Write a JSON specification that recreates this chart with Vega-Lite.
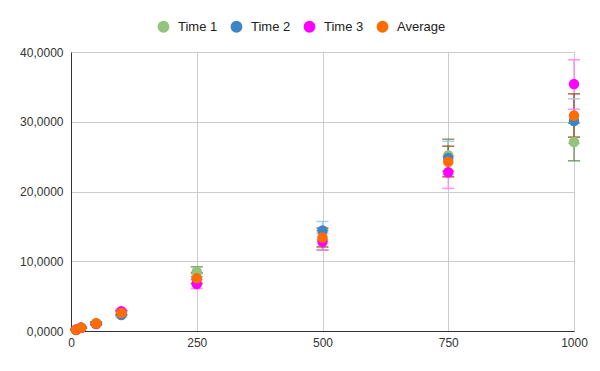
{
  "$schema": "https://vega.github.io/schema/vega-lite/v6.json",
  "width": 503,
  "height": 279,
  "autosize": {"type": "none"},
  "padding": {"left": 71, "top": 52, "right": 26, "bottom": 40},
  "background": "white",
  "config": {
    "view": {"stroke": null},
    "font": "Liberation Sans",
    "axis": {"labelFont": "Liberation Sans", "labelFontSize": 12, "labelColor": "#333333", "gridColor": "#cccccc", "gridWidth": 1, "domainColor": "#333333", "domainWidth": 1, "ticks": false, "title": null, "labelFlush": false}
  },
  "data": {
    "values": [
      {"x": 10, "series": "Time 1", "y": 0.2, "low": 0.15, "high": 0.25},
      {"x": 10, "series": "Time 2", "y": 0.15, "low": 0.1, "high": 0.2},
      {"x": 10, "series": "Time 3", "y": 0.2, "low": 0.15, "high": 0.25},
      {"x": 10, "series": "Average", "y": 0.18, "low": 0.13, "high": 0.23},
      {"x": 20, "series": "Time 1", "y": 0.55, "low": 0.47, "high": 0.63},
      {"x": 20, "series": "Time 2", "y": 0.45, "low": 0.37, "high": 0.53},
      {"x": 20, "series": "Time 3", "y": 0.45, "low": 0.37, "high": 0.53},
      {"x": 20, "series": "Average", "y": 0.48, "low": 0.4, "high": 0.56},
      {"x": 50, "series": "Time 1", "y": 1.15, "low": 1.0, "high": 1.3},
      {"x": 50, "series": "Time 2", "y": 1.0, "low": 0.85, "high": 1.15},
      {"x": 50, "series": "Time 3", "y": 1.05, "low": 0.9, "high": 1.2},
      {"x": 50, "series": "Average", "y": 1.07, "low": 0.92, "high": 1.22},
      {"x": 100, "series": "Time 1", "y": 2.6, "low": 2.3, "high": 2.9},
      {"x": 100, "series": "Time 2", "y": 2.3, "low": 2.0, "high": 2.6},
      {"x": 100, "series": "Time 3", "y": 2.85, "low": 2.55, "high": 3.15},
      {"x": 100, "series": "Average", "y": 2.58, "low": 2.28, "high": 2.88},
      {"x": 250, "series": "Time 1", "y": 8.5, "low": 7.8, "high": 9.2},
      {"x": 250, "series": "Time 2", "y": 7.41, "low": 6.66, "high": 8.16},
      {"x": 250, "series": "Time 3", "y": 6.74, "low": 6.09, "high": 7.39},
      {"x": 250, "series": "Average", "y": 7.55, "low": 6.84, "high": 8.36},
      {"x": 500, "series": "Time 1", "y": 13.0, "low": 11.6, "high": 14.4},
      {"x": 500, "series": "Time 2", "y": 14.4, "low": 13.1, "high": 15.7},
      {"x": 500, "series": "Time 3", "y": 12.8, "low": 11.6, "high": 14.0},
      {"x": 500, "series": "Average", "y": 13.4, "low": 12.05, "high": 14.75},
      {"x": 750, "series": "Time 1", "y": 25.2, "low": 22.9, "high": 27.5},
      {"x": 750, "series": "Time 2", "y": 24.8, "low": 22.4, "high": 27.2},
      {"x": 750, "series": "Time 3", "y": 22.75, "low": 20.45, "high": 25.05},
      {"x": 750, "series": "Average", "y": 24.25, "low": 22.1, "high": 26.5},
      {"x": 1000, "series": "Time 1", "y": 27.1, "low": 24.4, "high": 29.8},
      {"x": 1000, "series": "Time 2", "y": 30.1, "low": 26.9, "high": 33.3},
      {"x": 1000, "series": "Time 3", "y": 35.4, "low": 31.8, "high": 38.9},
      {"x": 1000, "series": "Average", "y": 30.9, "low": 27.8, "high": 34.0}
    ]
  },
  "encoding": {
    "x": {"field": "x", "type": "quantitative", "scale": {"domain": [0, 1000], "nice": false}, "axis": {"values": [0, 250, 500, 750, 1000], "format": "d", "labelPadding": 6}}
  },
  "layer": [
    {
      "mark": {"type": "rule", "strokeWidth": 1.5, "opacity": 0.85},
      "encoding": {
        "y": {"field": "low", "type": "quantitative"},
        "y2": {"field": "high"},
        "color": {"field": "series", "type": "nominal", "sort": ["Time 1", "Time 2", "Time 3", "Average"], "scale": {"domain": ["Time 1", "Time 2", "Time 3", "Average"], "range": ["#6b8e5a", "#9fc5e8", "#ff80ff", "#9c4f1c"]}, "legend": null}
      }
    },
    {
      "mark": {"type": "tick", "orient": "horizontal", "size": 12, "thickness": 1.5, "opacity": 0.85},
      "encoding": {
        "y": {"field": "low", "type": "quantitative"},
        "color": {"field": "series", "type": "nominal", "scale": {"domain": ["Time 1", "Time 2", "Time 3", "Average"], "range": ["#6b8e5a", "#9fc5e8", "#ff80ff", "#9c4f1c"]}, "legend": null}
      }
    },
    {
      "mark": {"type": "tick", "orient": "horizontal", "size": 12, "thickness": 1.5, "opacity": 0.85},
      "encoding": {
        "y": {"field": "high", "type": "quantitative"},
        "color": {"field": "series", "type": "nominal", "scale": {"domain": ["Time 1", "Time 2", "Time 3", "Average"], "range": ["#6b8e5a", "#9fc5e8", "#ff80ff", "#9c4f1c"]}, "legend": null}
      }
    },
    {
      "mark": {"type": "point", "filled": true, "opacity": 1, "size": 110, "shape": "circle"},
      "encoding": {
        "y": {"field": "y", "type": "quantitative", "scale": {"domain": [0, 40], "nice": false}, "axis": {"values": [0, 10, 20, 30, 40], "labelExpr": "replace(format(datum.value, '.4f'), '.', ',')", "labelPadding": 8, "gridColor": "#cccccc"}},
        "color": {
          "field": "series", "type": "nominal", "sort": ["Time 1", "Time 2", "Time 3", "Average"],
          "scale": {"domain": ["Time 1", "Time 2", "Time 3", "Average"], "range": ["#93c47d", "#3d85c6", "#ff00ff", "#ff6d01"]},
          "legend": {"title": null, "orient": "none", "direction": "horizontal", "legendX": 86, "legendY": -32, "symbolType": "circle", "symbolSize": 140, "symbolStrokeWidth": 0, "labelFontSize": 13, "labelFont": "Liberation Sans", "labelColor": "#222222", "columns": 4, "gridAlign": "all", "columnPadding": 3, "labelOffset": 8}
        }
      }
    }
  ],
  "resolve": {"scale": {"color": "independent"}}
}
